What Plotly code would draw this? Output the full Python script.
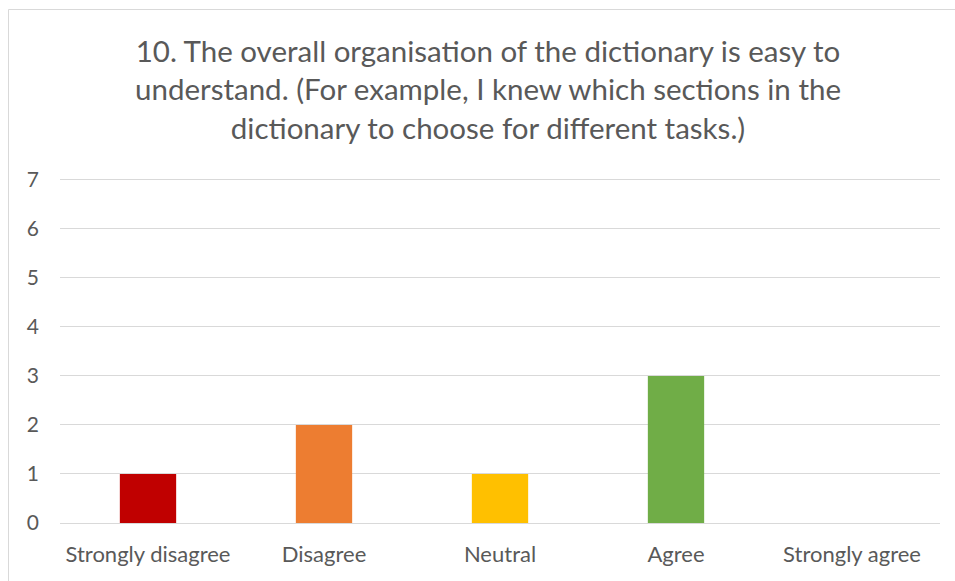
import plotly.graph_objects as go

# Survey responses for question 10
categories = ["Strongly disagree", "Disagree", "Neutral", "Agree", "Strongly agree"]
counts = [1, 2, 1, 3, 0]
bar_colors = ["#C00000", "#ED7D31", "#FFC000", "#70AD47", "#4472C4"]
y_ticks = [0, 1, 2, 3, 4, 5, 6, 7]
y_max = 7.06  # a little headroom so the top gridline at 7 is rendered

title_text = ("10. The overall organisation of the dictionary is easy to<br>"
              "understand. (For example, I knew which sections in the<br>"
              "dictionary to choose for different tasks.)")

W, H = 955, 581
ml, mr, mb = 60, 15, 58
# value 7 sits 343 px above the baseline
mt = round(H - mb - 343 * y_max / 7)
pw, ph = W - ml - mr, H - mt - mb

def px_to_paper_x(px):
    return (px - ml) / pw

def px_to_paper_y(py):
    return (H - mb - py) / ph

fig = go.Figure(
    go.Bar(
        x=categories,
        y=counts,
        marker=dict(color=bar_colors, line=dict(width=0)),
        width=0.32,
        hoverinfo="x+y",
    )
)

font_family = "Lato, 'Open Sans', sans-serif"
text_color = "#595959"
grid_color = "#D9D9D9"

fig.update_layout(
    width=W,
    height=H,
    margin=dict(l=ml, r=mr, t=mt, b=mb),
    paper_bgcolor="white",
    plot_bgcolor="white",
    showlegend=False,
    title=dict(
        text=title_text,
        font=dict(family=font_family, size=29.5, color=text_color),
        x=488 / W,
        xanchor="center",
        xref="container",
        y=(H - 62) / H,
        yanchor="middle",
    ),
    xaxis=dict(
        showgrid=False,
        showline=False,
        zeroline=False,
        ticks="",
        tickfont=dict(family=font_family, size=22, color=text_color),
        ticklabelstandoff=16,
    ),
    yaxis=dict(
        range=[0, y_max],
        tickvals=y_ticks,
        showgrid=True,
        gridcolor=grid_color,
        gridwidth=1,
        zeroline=True,
        zerolinecolor=grid_color,
        zerolinewidth=1,
        showline=False,
        ticks="",
        tickfont=dict(family=font_family, size=21, color=text_color),
        ticklabelstandoff=20,
    ),
    shapes=[
        # chart frame: top and left edges
        dict(type="line", xref="paper", yref="paper",
             x0=px_to_paper_x(8.5), x1=px_to_paper_x(960),
             y0=px_to_paper_y(9.5), y1=px_to_paper_y(9.5),
             line=dict(color=grid_color, width=1)),
        dict(type="line", xref="paper", yref="paper",
             x0=px_to_paper_x(8.5), x1=px_to_paper_x(8.5),
             y0=px_to_paper_y(9.5), y1=px_to_paper_y(590),
             line=dict(color=grid_color, width=1)),
    ],
)

fig.write_html("out.html")
